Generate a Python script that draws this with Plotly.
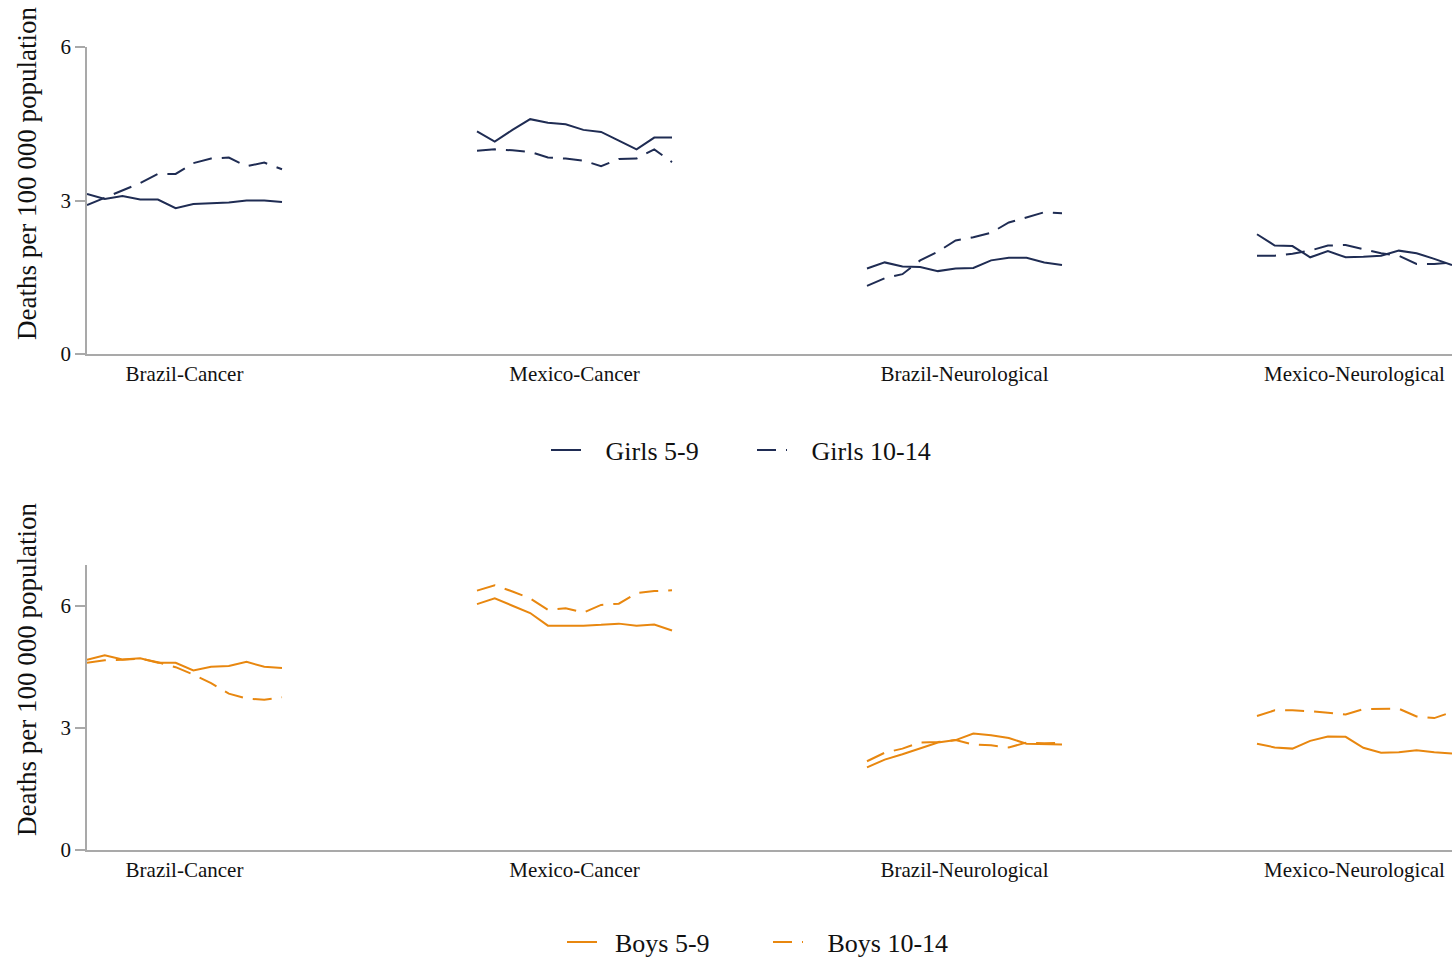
import plotly.graph_objects as go

# Cause-of-death groups shown along the x axis, 12 yearly points each
groups = ["Brazil-Cancer", "Mexico-Cancer", "Brazil-Neurological", "Mexico-Neurological"]
n_years = 12
group_gap = 10  # empty slots between groups

# Girls, deaths per 100 000 population
girls_5_9 = [
    [3.13, 3.03, 3.09, 3.02, 3.02, 2.85, 2.93, 2.94, 2.96, 3.00, 3.00, 2.97],
    [4.35, 4.15, 4.38, 4.59, 4.52, 4.49, 4.38, 4.34, 4.17, 4.00, 4.23, 4.23],
    [1.67, 1.79, 1.71, 1.70, 1.62, 1.67, 1.68, 1.83, 1.88, 1.88, 1.79, 1.74],
    [2.34, 2.12, 2.11, 1.89, 2.01, 1.89, 1.90, 1.92, 2.02, 1.97, 1.86, 1.74],
]
girls_10_14 = [
    [2.91, 3.05, 3.19, 3.34, 3.52, 3.52, 3.73, 3.82, 3.84, 3.67, 3.74, 3.61],
    [3.97, 4.00, 3.98, 3.95, 3.84, 3.82, 3.78, 3.67, 3.81, 3.82, 4.00, 3.75],
    [1.33, 1.48, 1.56, 1.83, 2.00, 2.22, 2.28, 2.37, 2.57, 2.67, 2.77, 2.75],
    [1.92, 1.92, 1.96, 2.02, 2.12, 2.13, 2.05, 1.97, 1.92, 1.76, 1.76, 1.79],
]

# Boys, deaths per 100 000 population
boys_5_9 = [
    [4.67, 4.78, 4.68, 4.71, 4.60, 4.60, 4.41, 4.50, 4.52, 4.62, 4.50, 4.47],
    [6.04, 6.18, 6.00, 5.82, 5.51, 5.51, 5.51, 5.53, 5.56, 5.51, 5.54, 5.39],
    [2.03, 2.22, 2.35, 2.49, 2.64, 2.70, 2.86, 2.82, 2.75, 2.61, 2.60, 2.59],
    [2.61, 2.52, 2.49, 2.68, 2.79, 2.78, 2.51, 2.39, 2.40, 2.45, 2.40, 2.37],
]
boys_10_14 = [
    [4.60, 4.66, 4.67, 4.70, 4.61, 4.49, 4.31, 4.10, 3.84, 3.72, 3.69, 3.75],
    [6.37, 6.50, 6.35, 6.18, 5.90, 5.94, 5.83, 6.02, 6.05, 6.31, 6.36, 6.38],
    [2.18, 2.39, 2.49, 2.64, 2.65, 2.70, 2.59, 2.57, 2.52, 2.64, 2.62, 2.63],
    [3.29, 3.43, 3.43, 3.41, 3.37, 3.33, 3.46, 3.46, 3.47, 3.28, 3.24, 3.39],
]

NAVY = "#1f2c53"
ORANGE = "#e8870f"
AXIS_GREY = "#a9a9a9"
FONT = "Liberation Serif, Times New Roman, serif"
DASH = "19px,10px"
NBSP = "\u00a0"

period = n_years + group_gap
x_max = (len(groups) - 1) * period + n_years - 1


def flatten(series):
    """Lay the groups side by side, with a gap (None) between them."""
    xs, ys = [], []
    for g, vals in enumerate(series):
        for i, v in enumerate(vals):
            xs.append(g * period + i)
            ys.append(v)
        xs.append(None)
        ys.append(None)
    return xs, ys


fig = go.Figure()

# (x axis, y axis, legend, [(label, data, dash, leading pad)], colour)
panels = [
    ("x", "y", "legend",
     [("Girls 5-9", girls_5_9, "solid", 3), ("Girls 10-14", girls_10_14, DASH, 3)], NAVY),
    ("x2", "y2", "legend2",
     [("Boys 5-9", boys_5_9, "solid", 2), ("Boys 10-14", boys_10_14, DASH, 3)], ORANGE),
]
for xa, ya, leg, series_list, color in panels:
    for name, series, dash, pad in series_list:
        xs, ys = flatten(series)
        fig.add_trace(go.Scatter(
            x=xs, y=ys, mode="lines", name=NBSP * pad + name, legend=leg,
            xaxis=xa, yaxis=ya, connectgaps=False,
            line=dict(color=color, width=2, dash=dash),
        ))

W, H = 1456, 960
x_dom = [87 / W, 1452 / W]
top_dom = [(H - 354) / H, (H - 47) / H]
bot_dom = [(H - 850) / H, (H - 565) / H]

tick_pos = [g * period + (n_years - 1) / 2 for g in range(len(groups))]

xaxis_common = dict(
    domain=x_dom, range=[0, x_max], showgrid=False, zeroline=False, automargin=False,
    showline=True, linecolor=AXIS_GREY, linewidth=1.5,
    tickmode="array", tickvals=tick_pos, ticktext=groups, ticks="",
    tickfont=dict(family=FONT, size=21, color="#111111"),
)
yaxis_common = dict(
    showgrid=False, zeroline=False, automargin=False,
    showline=True, linecolor=AXIS_GREY, linewidth=1.5,
    tickmode="array", tickvals=[0, 3, 6], ticks="outside", ticklen=10,
    tickcolor=AXIS_GREY, tickwidth=1.5,
    tickfont=dict(family=FONT, size=21, color="#111111"),
)

legend_common = dict(
    orientation="h", xanchor="left", yanchor="middle",
    font=dict(family=FONT, size=26, color="#111111"),
    bgcolor="rgba(0,0,0,0)", itemwidth=30, entrywidth=161, entrywidthmode="pixels",
    traceorder="normal",
)

title_font = dict(family=FONT, size=27, color="#111111")

fig.update_layout(
    width=W, height=H,
    margin=dict(l=0, r=0, t=0, b=0, autoexpand=False),
    paper_bgcolor="white", plot_bgcolor="white",
    font=dict(family=FONT, color="#111111"),
    xaxis=dict(**xaxis_common, anchor="y"),
    yaxis=dict(**yaxis_common, domain=top_dom, range=[0, 6], anchor="x"),
    xaxis2=dict(**xaxis_common, anchor="y2"),
    yaxis2=dict(**yaxis_common, domain=bot_dom, range=[0, 7], anchor="x2"),
    legend=dict(**legend_common, x=546 / W, y=(H - 450) / H),
    legend2=dict(**legend_common, x=562 / W, y=(H - 942) / H),
    annotations=[
        dict(text="Deaths per 100 000 population", textangle=-90,
             x=27 / W, y=(H - 174) / H, xref="paper", yref="paper",
             xanchor="center", yanchor="middle", showarrow=False, font=title_font),
        dict(text="Deaths per 100 000 population", textangle=-90,
             x=27 / W, y=(H - 670) / H, xref="paper", yref="paper",
             xanchor="center", yanchor="middle", showarrow=False, font=title_font),
    ],
)

fig.write_html("out.html")
